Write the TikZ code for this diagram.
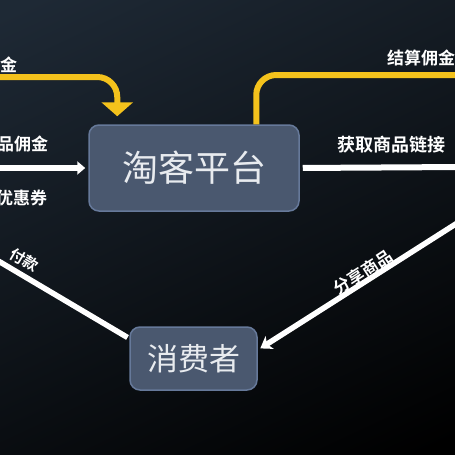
\documentclass[tikz,border=0pt]{standalone}
\usepackage{fontspec}
\setmainfont{Noto Sans CJK SC}[BoldFont={Noto Sans CJK SC Bold}]
\usetikzlibrary{arrows.meta}
\definecolor{bgA}{HTML}{1E2935}
\definecolor{bgB}{HTML}{0B1015}
\definecolor{boxfill}{HTML}{4A586F}
\definecolor{boxline}{HTML}{66799A}
\definecolor{gold}{HTML}{F4C21C}
\definecolor{txt}{HTML}{E8EBEF}
\tikzset{
  box/.style={draw=boxline, line width=1.5pt, fill=boxfill, rounded corners=10pt, text=txt, inner sep=0pt},
  goldline/.style={draw=gold, line width=6pt, rounded corners=20pt},
  whiteline/.style={draw=white, line width=6pt},
  lbl/.style={text=white, inner sep=0pt, font=\bfseries\fontsize{18pt}{18pt}\selectfont},
}
\begin{document}
\begin{tikzpicture}[x=1pt,y=-1pt]
\useasboundingbox (0,0) rectangle (455,455);
\clip (0,0) rectangle (455,455);
\shade[top color=bgA, middle color=bgB, bottom color=black, shading angle=25] (-60,-60) rectangle (515,515);

% boxes
\node[box, minimum width=210pt, minimum height=86pt, font=\fontsize{36pt}{36pt}\selectfont] (tk) at (194,168) {淘客平台};
\node[box, minimum width=127pt, minimum height=63pt, font=\fontsize{31pt}{31pt}\selectfont] (xf) at (193.5,358.5) {消费者};

% free ends
\coordinate (yl) at (-5,77);
\coordinate (yr) at (462,75);
\coordinate (wl) at (-5,168);
\coordinate (wr) at (462,167);
\coordinate (pay) at (-5,259);
\coordinate (sh) at (462,220);

% connectors
\draw[goldline, -{Triangle[length=14pt,width=31pt]}, shorten >=8pt] (yl) -| ([xshift=29pt]tk.north west);
\draw[goldline] ([xshift=-43.5pt]tk.north east) |- (yr);
\draw[whiteline, -{Triangle[length=8pt,width=13pt]}, shorten >=3pt] (wl) -- (tk.west);
\draw[whiteline, shorten <=3pt] (tk.east) -- (wr);
\draw[whiteline, line width=5.5pt, shorten >=2pt] (pay) -- ([yshift=20pt]xf.west);
\draw[whiteline, line width=5.5pt, -{Stealth[length=11pt,width=15pt,inset=3pt]}, shorten >=3pt] (sh) -- ([yshift=8.5pt]xf.east);

% labels
\node[lbl, anchor=west, font=\bfseries\fontsize{17pt}{17pt}\selectfont] (l1) at (0,65) {金};
\node[lbl, anchor=west, font=\bfseries\fontsize{17pt}{17pt}\selectfont] (l2) at (387,58) {结算佣金};
\node[lbl, anchor=west, font=\bfseries\fontsize{17pt}{17pt}\selectfont] (l3) at (-3,144) {品佣金};
\node[lbl, anchor=west, font=\bfseries\fontsize{17pt}{17pt}\selectfont] (l4) at (-4,198) {优惠券};
\node[lbl] (l5) at (391,145) {获取商品链接};
\node[lbl, rotate=-30.5, font=\bfseries\fontsize{15pt}{15pt}\selectfont] (l6) at (24,260) {付款};
\node[lbl, rotate=33, font=\bfseries\fontsize{16.5pt}{16.5pt}\selectfont] (l7) at (363,272) {分享商品};
\end{tikzpicture}
\end{document}
